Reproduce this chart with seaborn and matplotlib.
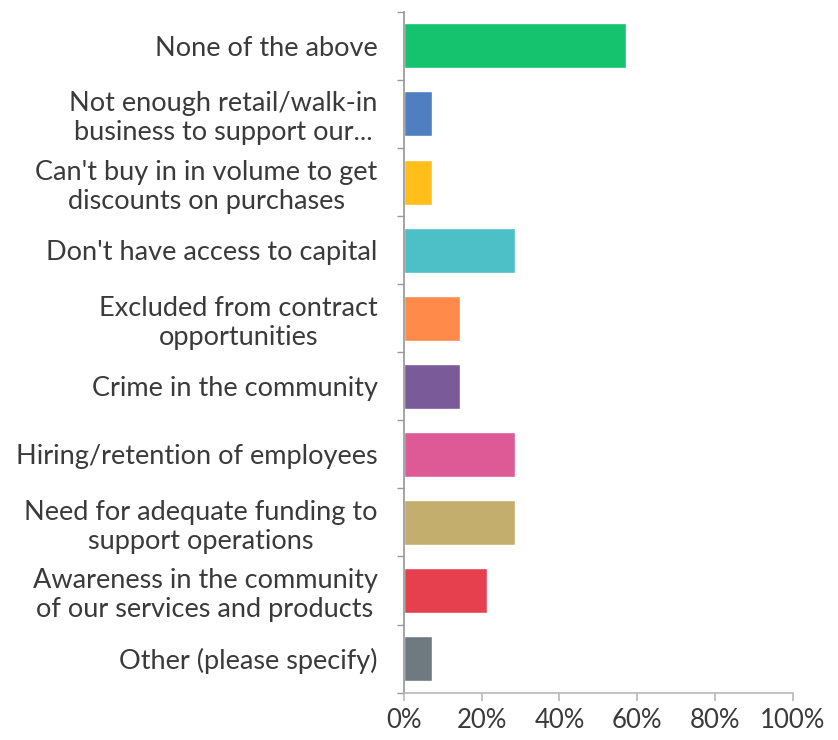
import matplotlib
matplotlib.use("Agg")

import matplotlib.pyplot as plt
import matplotlib.ticker as mticker
import numpy as np
import pandas as pd
import seaborn as sns

categories = [
    "None of the above",
    "Not enough retail/walk-in\nbusiness to support our...",
    "Can't buy in in volume to get\ndiscounts on purchases",
    "Don't have access to capital",
    "Excluded from contract\nopportunities",
    "Crime in the community",
    "Hiring/retention of employees",
    "Need for adequate funding to\nsupport operations",
    "Awareness in the community\nof our services and products",
    "Other (please specify)",
]
shares = [57.1, 7.1, 7.1, 28.6, 14.3, 14.3, 28.6, 28.6, 21.4, 7.1]
colors = ["#15C26E", "#4F7FC0", "#FFBE1A", "#4DBFC6", "#FF8A4A",
          "#7A5A98", "#DD5A96", "#C4AE6E", "#E6404F", "#6F7A80"]
x_ticks = [0, 20, 40, 60, 80, 100]

sns.set_theme(style="white")
plt.rcParams["font.family"] = ["Lato", "DejaVu Sans"]

df = pd.DataFrame({"category": categories, "share": shares})

fig = plt.figure(figsize=(8.38, 7.40), dpi=100)
ax = fig.add_axes([0.482, 0.064, 0.464, 0.920])
sns.barplot(data=df, x="share", y="category", hue="category",
            palette=colors, width=0.66, legend=False, ax=ax,
            saturation=1)

ax.set_xlim(0, 100)
ax.set_ylim(len(categories) - 0.5, -0.5)
ax.set_xticks(x_ticks)
ax.xaxis.set_major_formatter(mticker.FuncFormatter(lambda v, _: f"{int(v)}%"))
ax.set_xlabel("")
ax.set_ylabel("")

# category boundary ticks on the y axis
ax.yaxis.set_minor_locator(mticker.FixedLocator(np.arange(-0.5, len(categories), 1)))
ax.tick_params(axis="y", which="major", length=0, labelsize=19.5, colors="#3a3a3a", pad=19)
ax.tick_params(axis="y", which="minor", length=5, left=True, color="#999999", width=1)
ax.tick_params(axis="x", length=6, bottom=True, color="#bbbbbb", labelsize=18.5,
               labelcolor="#3a3a3a", pad=5)
for lab in ax.get_yticklabels():
    lab.set_multialignment("center")
    lab.set_linespacing(1.2)

for side in ["top", "right"]:
    ax.spines[side].set_visible(False)
ax.spines["left"].set_color("#999999")
ax.spines["bottom"].set_color("#bbbbbb")

fig.savefig("out.png", dpi=100)
